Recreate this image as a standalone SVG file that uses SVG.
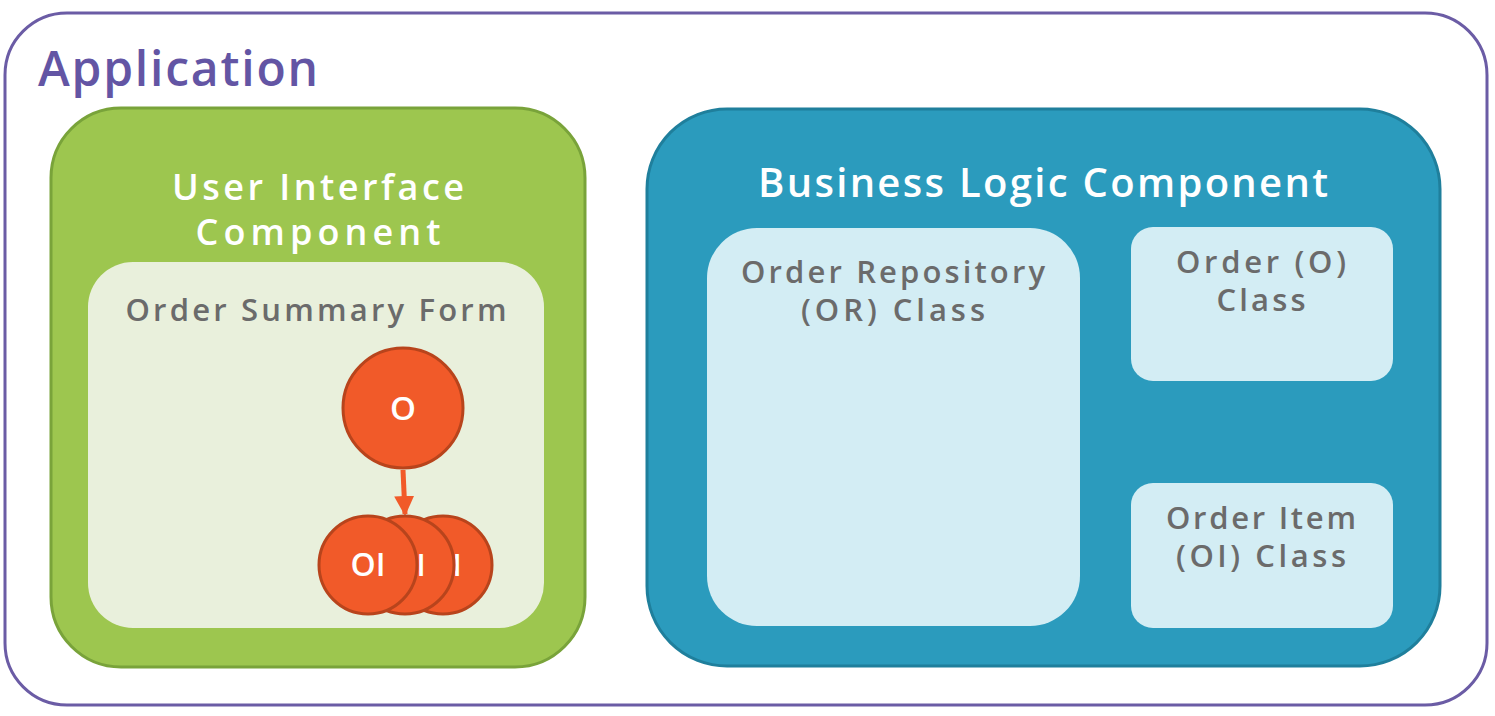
<svg xmlns="http://www.w3.org/2000/svg" width="1495" height="716" viewBox="0 0 1495 716">
<style>
text{font-family:"Open Sans","Liberation Sans",sans-serif;font-weight:600;text-anchor:middle}
.t{fill:#ffffff;font-size:36px}
.g{fill:#6b6b6b;font-size:31px}
.c{fill:#f15a29;stroke:#b8441c;stroke-width:3}
.ct{fill:#ffffff;font-size:30px}
.cls{fill:#d3edf4}
</style>
<defs>
<marker id="ah" viewBox="0 0 10 10" refX="9" refY="5" markerWidth="4" markerHeight="4" orient="auto" markerUnits="strokeWidth">
<path d="M0,0 L10,5 L0,10 z" fill="#f15a29"/>
</marker>
</defs>
<rect width="1495" height="716" fill="#ffffff"/>
<g id="application">
<rect x="5" y="13" width="1482" height="692" rx="62" fill="#ffffff" stroke="#6b5ca5" stroke-width="3"/>
<text x="38" y="86" textLength="280" lengthAdjust="spacing" style="text-anchor:start;font-size:48px;fill:#6355a4">Application</text>
</g>
<g id="ui-component">
<rect x="51" y="108" width="534" height="559" rx="70" fill="#9dc64f" stroke="#79a33a" stroke-width="3"/>
<text class="t" x="318" y="200" textLength="292" lengthAdjust="spacing">User Interface</text>
<text class="t" x="318" y="245" textLength="245" lengthAdjust="spacing">Component</text>
</g>
<g id="order-summary-form">
<rect x="88" y="262" width="456" height="366" rx="45" fill="#e9f0dc"/>
<text class="g" x="316" y="321" textLength="381" lengthAdjust="spacing">Order Summary Form</text>
</g>
<g id="bl-component">
<rect x="647" y="109" width="793" height="557" rx="80" fill="#2b9bbd" stroke="#1f7f9c" stroke-width="3"/>
<text class="t" x="1043" y="197" textLength="570" lengthAdjust="spacing" style="font-size:40px">Business Logic Component</text>
</g>
<g id="or-class">
<rect class="cls" x="707" y="228" width="373" height="398" rx="50"/>
<text class="g" x="893" y="283" textLength="304" lengthAdjust="spacing">Order Repository</text>
<text class="g" x="893" y="321" textLength="184" lengthAdjust="spacing">(OR) Class</text>
</g>
<g id="o-class">
<rect class="cls" x="1131" y="227" width="262" height="154" rx="22"/>
<text class="g" x="1261" y="273" textLength="170" lengthAdjust="spacing">Order (O)</text>
<text class="g" x="1261" y="311" textLength="89" lengthAdjust="spacing">Class</text>
</g>
<g id="oi-class">
<rect class="cls" x="1131" y="483" width="262" height="145" rx="22"/>
<text class="g" x="1261" y="529" textLength="190" lengthAdjust="spacing">Order Item</text>
<text class="g" x="1261" y="567" textLength="170" lengthAdjust="spacing">(OI) Class</text>
</g>
<g id="connectors">
<line x1="403" y1="470" x2="405" y2="514" stroke="#f15a29" stroke-width="5" marker-end="url(#ah)"/>
</g>
<g id="oi-3">
<circle class="c" cx="443" cy="565" r="49"/>
<text class="ct" x="457" y="576">I</text>
</g>
<g id="oi-2">
<circle class="c" cx="405" cy="565" r="49"/>
<text class="ct" x="421" y="576">I</text>
</g>
<g id="oi-1">
<circle class="c" cx="368" cy="565" r="49"/>
<text class="ct" x="368" y="576" style="font-size:32px">OI</text>
</g>
<g id="o-node">
<circle class="c" cx="403" cy="408" r="60"/>
<text class="ct" x="403" y="420" style="font-size:33px">O</text>
</g>
</svg>
